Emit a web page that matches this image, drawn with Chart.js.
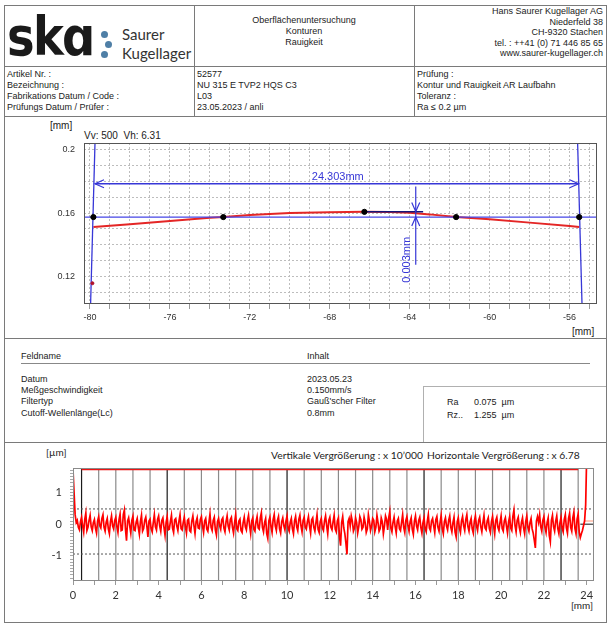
<!DOCTYPE html>
<html><head><meta charset="utf-8">
<script src="https://cdn.jsdelivr.net/npm/chart.js@4/dist/chart.umd.min.js"></script>
<style>
html,body{margin:0;padding:0;background:#fff;}
body{width:610px;height:625px;position:relative;overflow:hidden;font-family:"Liberation Sans",Arial,sans-serif;font-size:9px;color:#222;}
.a{position:absolute;white-space:nowrap;line-height:1;transform:translateY(-50%);}
.r{text-align:right;}
.hl{position:absolute;height:0;border-top:1px solid #7a7a7a;}
.vl{position:absolute;width:0;border-left:1px solid #7a7a7a;}
.lt{border-color:#b0b0b0;}
.cal{font-family:Lato,"Open Sans",sans-serif;font-size:10.3px;color:#222;}
.dot{position:absolute;width:7px;height:7px;border-radius:50%;background:#4f7fa6;}
canvas{position:absolute;}
</style></head><body>

<!-- frame lines -->
<div class="hl" style="left:4px;top:5px;width:602px"></div>
<div class="hl" style="left:4px;top:66px;width:602px"></div>
<div class="hl" style="left:4px;top:116px;width:602px"></div>
<div class="hl" style="left:4px;top:338px;width:602px"></div>
<div class="hl" style="left:4px;top:442px;width:602px"></div>
<div class="hl" style="left:4px;top:622px;width:603px"></div>
<div class="vl" style="left:4px;top:5px;height:617px"></div>
<div class="vl" style="left:606px;top:5px;height:617px"></div>
<div class="vl" style="left:194px;top:5px;height:111px"></div>
<div class="vl" style="left:414px;top:5px;height:111px"></div>

<!-- logo -->
<div style="position:absolute;left:7px;top:10px;font:bold 54px 'DejaVu Sans';letter-spacing:-2px;color:#1a1a1a;line-height:1;transform:scaleX(0.86);transform-origin:0 0;">skɑ</div>
<div class="dot" style="left:101px;top:31px"></div>
<div class="dot" style="left:105px;top:41px"></div>
<div class="dot" style="left:101px;top:51px"></div>
<div class="a" style="left:122px;top:34px;font:15px Lato,sans-serif;color:#333">Saurer</div>
<div class="a" style="left:122px;top:53px;font:15px Lato,sans-serif;color:#333">Kugellager</div>

<!-- header centre -->
<div class="a" style="left:194px;width:220px;text-align:center;top:20px">Oberflächenuntersuchung</div>
<div class="a" style="left:194px;width:220px;text-align:center;top:31px">Konturen</div>
<div class="a" style="left:194px;width:220px;text-align:center;top:42px">Rauigkeit</div>

<!-- header right -->
<div class="a r" style="right:7px;top:11px">Hans Saurer Kugellager AG</div>
<div class="a r" style="right:7px;top:22px">Niederfeld 38</div>
<div class="a r" style="right:7px;top:32px">CH-9320 Stachen</div>
<div class="a r" style="right:7px;top:43px">tel. : ++41 (0) 71 446 85 65</div>
<div class="a r" style="right:7px;top:53px">www.saurer-kugellager.ch</div>

<!-- info rows -->
<div class="a" style="left:7px;top:74px">Artikel Nr. :</div>
<div class="a" style="left:7px;top:85px">Bezeichnung :</div>
<div class="a" style="left:7px;top:96px">Fabrikations Datum / Code :</div>
<div class="a" style="left:7px;top:107px">Prüfungs Datum / Prüfer :</div>
<div class="a" style="left:197px;top:74px">52577</div>
<div class="a" style="left:197px;top:85px">NU 315 E TVP2 HQS C3</div>
<div class="a" style="left:197px;top:96px">L03</div>
<div class="a" style="left:197px;top:107px">23.05.2023 / anli</div>
<div class="a" style="left:417px;top:74px">Prüfung :</div>
<div class="a" style="left:417px;top:85px">Kontur und Rauigkeit AR Laufbahn</div>
<div class="a" style="left:417px;top:96px">Toleranz :</div>
<div class="a" style="left:417px;top:107px">Ra ≤ 0.2 µm</div>

<!-- chart 1 labels -->
<div class="a" style="left:50px;top:126px;font-size:10px">[mm]</div>
<div class="a" style="left:84px;top:136px;font-size:10px">Vv: 500&nbsp; Vh: 6.31</div>
<div class="a" style="left:572px;top:332px;font-size:10px">[mm]</div>
<canvas id="c1" width="600" height="220" style="left:5px;top:117px"></canvas>

<!-- section 3 -->
<div class="a" style="left:21px;top:356px">Feldname</div>
<div class="a" style="left:307px;top:356px">Inhalt</div>
<div class="hl" style="left:21px;top:363px;width:569px;border-color:#888"></div>
<div class="a" style="left:21px;top:379px">Datum</div>
<div class="a" style="left:21px;top:390px">Meßgeschwindigkeit</div>
<div class="a" style="left:21px;top:401px">Filtertyp</div>
<div class="a" style="left:21px;top:413px">Cutoff-Wellenlänge(Lc)</div>
<div class="a" style="left:307px;top:379px">2023.05.23</div>
<div class="a" style="left:307px;top:390px">0.150mm/s</div>
<div class="a" style="left:307px;top:401px">Gauß'scher Filter</div>
<div class="a" style="left:307px;top:413px">0.8mm</div>
<div class="vl lt" style="left:423px;top:386px;height:56px"></div>
<div class="hl lt" style="left:423px;top:386px;width:183px"></div>
<div class="a" style="left:447px;top:402px">Ra</div>
<div class="a" style="left:474px;top:402px">0.075&nbsp; µm</div>
<div class="a" style="left:447px;top:415px">Rz..</div>
<div class="a" style="left:474px;top:415px">1.255&nbsp; µm</div>

<!-- section 4 -->
<div class="a cal" style="left:46px;top:452px;font-size:10px">[µm]</div>
<div class="a cal" style="left:271px;top:455px">Vertikale Vergrößerung : x 10’000</div>
<div class="a cal" style="left:427px;top:455px">Horizontale Vergrößerung : x 6.78</div>
<div class="a cal" style="left:571px;top:605px;font-size:10px">[mm]</div>
<canvas id="c2" width="600" height="178" style="left:5px;top:443px"></canvas>

<script>
// ---------------- Chart 1 : contour ----------------
const contourXRange = [-80.3, -54.63];
const contourYRange = [0.1027, 0.2042];
const profileX = [-79.83, -78, -76, -74, -73.33, -72, -70, -68, -66.27, -65, -64, -63, -61.68, -60, -58, -56, -55.52];
const profileY = [0.1512, 0.1530, 0.1551, 0.1570, 0.1575, 0.1588, 0.1600, 0.1605, 0.1608, 0.1607, 0.1602, 0.1592, 0.1575, 0.1561, 0.1540, 0.1519, 0.1512];
const baselineY = 0.1575;
const fitPointsX = [-79.83, -73.33, -66.27, -61.68, -55.52];
const fitPointsY = [0.1575, 0.1575, 0.1608, 0.1575, 0.1575];
const peakLineX = [-66.27, -63.33];
const peakLineY = 0.1609;
const leftEdgeX = [-79.75, -79.97];
const rightEdgeX = [-55.6, -55.38];
const outlierX = [-79.88];
const outlierY = [0.1158];
const dimLineX = [-79.75, -55.55];
const dimLineY = 0.1785;
const dimVertX = -63.7;
const dimVertY = [0.1767, 0.1275];
const dimVertTips = [0.161, 0.1575];
const dimLabels = ['24.303mm', '0.003mm'];
const dimLabelPos = [[-67.6, 0.1830], [-64.13, 0.1306]];

// ---------------- Chart 2 : roughness ----------------
const roughXRange = [0, 24.34];
const roughYRange = [-1.79, 1.77];
const roughStep = 0.1;
// samples at 0.0, 0.1, 0.2 ... 24.0 mm
const roughness = [
 1.72, 0.30, 0.12,-0.18, 0.22,-0.25, 0.35,-0.10, 0.28,-0.20,
 0.15,-0.28, 0.24,-0.12, 0.30,-0.22, 0.18,-0.30, 0.26,-0.15,
 0.22,-0.26, 0.32,-0.18, 0.45,-0.52, 0.20,-0.28, 0.25,-0.20,
 0.18,-0.32, 0.28,-0.14, 0.22,-0.40, 0.16,-0.24, 0.30,-0.18,
 0.26,-0.22, 0.20,-0.35, 0.24,-0.16, 0.28,-0.26, 0.18,-0.20,
 0.30,-0.18, 0.22,-0.28, 0.16,-0.24, 0.26,-0.30, 0.20,-0.14,
 0.24,-0.26, 0.18,-0.22, 0.32,-0.20, 0.22,-0.34, 0.18,-0.16,
 0.20,-0.24, 0.26,-0.18, 0.22,-0.28, 0.30,-0.20, 0.16,-0.26,
 0.22,-0.18, 0.28,-0.30, 0.20,-0.22, 0.24,-0.16, 0.36,-0.24,
 0.18,-0.45, 0.22,-0.26, 0.30,-0.20, 0.24,-0.28, 0.20,-0.18,
 0.26,-0.22, 0.18,-0.30, 0.24,-0.20, 0.28,-0.24, 0.22,-0.16,
 0.24,-0.28, 0.20,-0.22, 0.30,-0.26, 0.18,-0.20, 0.26,-0.30,
 0.22,-0.18, 0.28,-0.24, 0.20,-0.68, 0.24,-0.30,-0.95, 0.18,
 0.26,-0.22, 0.20,-0.28, 0.24,-0.16, 0.22,-0.26, 0.30,-0.20,
 0.18,-0.24, 0.28,-0.22, 0.20,-0.30, 0.26,-0.18, 0.40,-0.24,
 0.22,-0.28, 0.18,-0.20, 0.30,-0.26, 0.24,-0.22, 0.20,-0.32,
 0.26,-0.18, 0.22,-0.28, 0.20,-0.24, 0.30,-0.20, 0.18,-0.26,
 0.24,-0.22, 0.28,-0.30, 0.20,-0.18, 0.26,-0.24, 0.22,-0.40,
 0.20,-0.26, 0.24,-0.20, 0.30,-0.22, 0.18,-0.28, 0.26,-0.20,
 0.22,-0.24, 0.28,-0.18, 0.20,-0.26, 0.24,-0.30, 0.22,-0.20,
 0.26,-0.22, 0.20,-0.28, 0.24,-0.20, 0.45,-0.24, 0.22,-0.26,
 0.20,-0.30, 0.26,-0.22, 0.18,-0.28,-0.75, 0.24, 0.30,-0.22,
 0.24,-0.26, 0.20,-0.55, 0.28,-0.22, 0.26,-0.30, 0.22,-0.24,
 0.30,-0.28, 0.34,-0.22, 0.38,-0.30, 0.32,-0.42,-0.20, 0.10,
 2.20
];
// samples at 0.05, 0.15, 0.25 ... 23.95 mm
const roughnessMid = [
 1.00, 0.05,-0.10, 0.08,-0.05, 0.15,-0.20, 0.12,-0.08, 0.05,
-0.12, 0.10,-0.05, 0.18,-0.10, 0.06,-0.15, 0.08,-0.05, 0.12,
-0.08, 0.14,-0.20, 0.30,-0.15, 0.10,-0.05, 0.12,-0.18, 0.06,
-0.10, 0.08,-0.22, 0.12,-0.06, 0.10,-0.14, 0.05,-0.08, 0.15,
-0.05, 0.12,-0.10, 0.06,-0.18, 0.08,-0.12, 0.14,-0.06, 0.10,
-0.14, 0.06,-0.08, 0.12,-0.20, 0.10,-0.05, 0.08,-0.12, 0.15,
-0.06, 0.10,-0.15, 0.05,-0.10, 0.12,-0.18, 0.08,-0.05, 0.14,
-0.12, 0.08,-0.06, 0.15,-0.10, 0.05,-0.14, 0.10,-0.20, 0.06,
-0.08, 0.12,-0.05, 0.10,-0.16, 0.08,-0.12, 0.20,-0.10, 0.05,
-0.30, 0.10,-0.08, 0.14,-0.06, 0.12,-0.15, 0.08,-0.05, 0.10,
-0.12, 0.06,-0.14, 0.10,-0.08, 0.15,-0.05, 0.12,-0.10, 0.08,
-0.06, 0.14,-0.10, 0.05,-0.16, 0.08,-0.12, 0.10,-0.05, 0.12,
-0.10, 0.08,-0.15, 0.10,-0.40, 0.05,-0.12,-0.60, 0.08,-0.06,
 0.10,-0.12, 0.06,-0.08, 0.14,-0.10, 0.05,-0.15, 0.08,-0.06,
 0.12,-0.10, 0.05,-0.14, 0.08,-0.06, 0.15, 0.20,-0.12, 0.06,
-0.08, 0.10,-0.14, 0.06,-0.10, 0.12,-0.05, 0.08,-0.16, 0.10,
-0.06, 0.12,-0.10, 0.05,-0.14, 0.08,-0.12, 0.10,-0.05, 0.14,
-0.10, 0.06,-0.15, 0.08,-0.06, 0.12,-0.10, 0.05,-0.25, 0.08,
-0.12, 0.10,-0.05, 0.14,-0.08, 0.06,-0.15, 0.10,-0.06, 0.12,
-0.08, 0.05,-0.12, 0.10,-0.14, 0.08,-0.06, 0.12,-0.10, 0.06,
-0.14, 0.10,-0.06, 0.08,-0.12, 0.25,-0.05, 0.12,-0.10, 0.06,
-0.12, 0.08,-0.10, 0.05,-0.15,-0.50, 0.10, 0.06,-0.08, 0.12,
-0.10, 0.06,-0.35, 0.12,-0.08, 0.10,-0.14, 0.05,-0.12, 0.15,
-0.12, 0.18,-0.10, 0.20,-0.14, 0.16,-0.25,-0.30,-0.05, 0.60
];
const cutoffMarks = [0.4,1.2,2.0,2.8,3.6,4.4,5.2,6.0,6.8,7.6,8.4,9.2,10.0,10.8,11.6,12.4,13.2,14.0,14.8,15.6,16.4,17.2,18.0,18.8,19.6,20.4,21.2,22.0,22.8,23.6];
const darkMarks = [0.4, 4.4, 10.0, 16.4, 22.8];
const topLineX = [0.4, 23.6];
const topLineY = 1.74;
const limitLinesY = [0.48, -0.94];
const zeroStubX = [23.7, 24.34];
const offsetStubX = [23.9, 24.34];
const offsetStubY = 0.1;

// ---------------- helpers ----------------
const frame = {
  id:'frame',
  afterDatasetsDraw(chart, args, o){
    const a = chart.chartArea, c = chart.ctx;
    c.save(); c.strokeStyle = o.color; c.lineWidth = 1;
    c.strokeRect(Math.round(a.left)+0.5, Math.round(a.top)+0.5, Math.round(a.right-a.left)-1, Math.round(a.bottom-a.top)-1);
    c.restore();
  }
};

const dims = {
  id:'dims',
  afterDatasetsDraw(chart){
    const c = chart.ctx, xs = chart.scales.x, ys = chart.scales.y;
    const blue = 'rgb(55,55,215)';
    c.save(); c.strokeStyle = blue; c.fillStyle = blue; c.lineWidth = 1.2;
    const L = 9, W = 4;
    const yh = ys.getPixelForValue(dimLineY);
    const xl = xs.getPixelForValue(dimLineX[0]), xr = xs.getPixelForValue(dimLineX[1]);
    c.beginPath();
    c.moveTo(xl+L, yh-W); c.lineTo(xl, yh); c.lineTo(xl+L, yh+W);
    c.moveTo(xr-L, yh-W); c.lineTo(xr, yh); c.lineTo(xr-L, yh+W);
    const xv = xs.getPixelForValue(dimVertX);
    const t1 = ys.getPixelForValue(dimVertTips[0]), t2 = ys.getPixelForValue(dimVertTips[1]);
    c.moveTo(xv-W, t1-L); c.lineTo(xv, t1); c.lineTo(xv+W, t1-L);
    c.moveTo(xv-W, t2+L); c.lineTo(xv, t2); c.lineTo(xv+W, t2+L);
    c.stroke();
    c.font = '11px "Liberation Sans", Arial, sans-serif';
    c.textAlign = 'center'; c.textBaseline = 'middle';
    c.fillText(dimLabels[0], xs.getPixelForValue(dimLabelPos[0][0]), ys.getPixelForValue(dimLabelPos[0][1]));
    c.translate(xs.getPixelForValue(dimLabelPos[1][0]), ys.getPixelForValue(dimLabelPos[1][1]));
    c.rotate(-Math.PI/2);
    c.fillText(dimLabels[1], 0, 0);
    c.restore();
  }
};

const line = (pts, color, width, extra) => Object.assign({data:pts, showLine:true, borderColor:color, backgroundColor:color, borderWidth:width, pointRadius:0, tension:0}, extra||{});

// ---------------- Chart 1 ----------------
const yTop1 = contourYRange[1], yBot1 = contourYRange[0];
new Chart(document.getElementById('c1'), {
  type:'scatter',
  data:{datasets:[
    {data: fitPointsX.map((x,i)=>({x, y:fitPointsY[i]})), pointRadius:2.6, pointBackgroundColor:'#000', pointBorderColor:'#000', showLine:false},
    {data: outlierX.map((x,i)=>({x, y:outlierY[i]})), pointRadius:1.5, pointBackgroundColor:'#b0102a', pointBorderColor:'#b0102a', showLine:false},
    line(peakLineX.map(x=>({x, y:peakLineY})), 'rgb(20,20,120)', 1.5),
    line([{x:leftEdgeX[0], y:yTop1},{x:leftEdgeX[1], y:yBot1}], 'rgb(55,55,215)', 1.3),
    line([{x:rightEdgeX[0], y:yTop1},{x:rightEdgeX[1], y:yBot1}], 'rgb(55,55,215)', 1.3),
    line(dimLineX.map(x=>({x, y:dimLineY})), 'rgb(55,55,215)', 1.3),
    line(dimVertY.map(y=>({x:dimVertX, y})), 'rgb(55,55,215)', 1.2),
    line(contourXRange.map(x=>({x, y:baselineY})), 'rgb(70,70,230)', 1.3),
    line(profileX.map((x,i)=>({x, y:profileY[i]})), 'rgb(228,38,38)', 2),
  ]},
  options:{
    responsive:false, animation:false,
    layout:{padding:{left:0, right:8, top:26, bottom:0}},
    plugins:{legend:{display:false}, tooltip:{enabled:false}, frame:{color:'#555'}},
    scales:{
      x:{type:'linear', min:contourXRange[0], max:contourXRange[1],
        afterFit(s){ s.height = 33; },
        border:{display:false, dash:[2,2]},
        grid:{color:'#bdbdbd', drawTicks:true, tickLength:5, tickColor:'#999', tickBorderDash:[]},
        ticks:{stepSize:1, includeBounds:false, autoSkip:false, maxRotation:0, padding:3,
          color:'#333', font:{family:'"Liberation Sans", Arial', size:9},
          callback:v => (Math.round(v) % 4 === 0 ? String(v) : '')}},
      y:{type:'linear', min:contourYRange[0], max:contourYRange[1],
        afterFit(s){ s.width = 79; },
        border:{display:false, dash:[2,2]},
        grid:{color:'#bdbdbd', drawTicks:false},
        ticks:{stepSize:0.01, includeBounds:false, autoSkip:false, padding:9,
          color:'#333', font:{family:'"Liberation Sans", Arial', size:9},
          callback:v => (Math.round(v*100) % 4 === 0 ? String(+v.toFixed(2)) : '')}}
    }
  },
  plugins:[frame, dims]
});

// ---------------- Chart 2 ----------------
const y2Top = roughYRange[1], y2Bot = roughYRange[0];
const roughTable = [];
roughnessMid.forEach((m,i) => {
  roughTable.push({x:+(i*roughStep).toFixed(2), y:roughness[i]});
  roughTable.push({x:+(i*roughStep + roughStep/2).toFixed(3), y:m});
});
roughTable.push({x:+((roughness.length-1)*roughStep).toFixed(2), y:roughness[roughness.length-1]});

const ds2 = [];
ds2.push(line(roughTable, 'rgb(255,0,0)', 1.7));
ds2.push(line(topLineX.map(x=>({x, y:topLineY})), 'rgb(235,20,20)', 2.5));
ds2.push(line(zeroStubX.map(x=>({x, y:0})), '#111', 1));
ds2.push(line(offsetStubX.map(x=>({x, y:offsetStubY})), 'rgb(255,150,120)', 1));
limitLinesY.forEach(v => ds2.push(line(roughXRange.map(x=>({x, y:v})), '#555', 1, {borderDash:[2,2]})));
cutoffMarks.forEach(m => ds2.push(line([{x:m, y:y2Bot},{x:m, y:y2Top}], darkMarks.includes(m) ? '#1a1a1a' : '#8a8a8a', 1.2)));

new Chart(document.getElementById('c2'), {
  type:'scatter',
  data:{datasets:ds2},
  options:{
    responsive:false, animation:false,
    layout:{padding:{left:0, right:11, top:25, bottom:0}},
    plugins:{legend:{display:false}, tooltip:{enabled:false}, frame:{color:'#8a8a8a'}},
    scales:{
      x:{type:'linear', min:roughXRange[0], max:roughXRange[1],
        afterFit(s){ s.height = 40; },
        border:{display:false},
        grid:{drawOnChartArea:false, drawTicks:true, tickLength:4, tickColor:'#999'},
        ticks:{stepSize:1, includeBounds:false, autoSkip:false, maxRotation:0, padding:4,
          color:'#333', font:{family:'Lato, "Open Sans", sans-serif', size:11},
          callback:v => (Math.round(v) % 2 === 0 ? String(v) : '')}},
      y:{type:'linear', min:roughYRange[0], max:roughYRange[1],
        afterFit(s){ s.width = 68; },
        border:{display:false},
        grid:{drawOnChartArea:false, drawTicks:true, tickLength:3, tickColor:'#aaa'},
        ticks:{stepSize:0.1, includeBounds:false, autoSkip:false, padding:8,
          color:'#333', font:{family:'Lato, "Open Sans", sans-serif', size:11},
          callback:v => (Math.abs(v - Math.round(v)) < 1e-6 ? String(Math.round(v)) : '')}}
    }
  },
  plugins:[frame]
});
</script>
</body></html>
